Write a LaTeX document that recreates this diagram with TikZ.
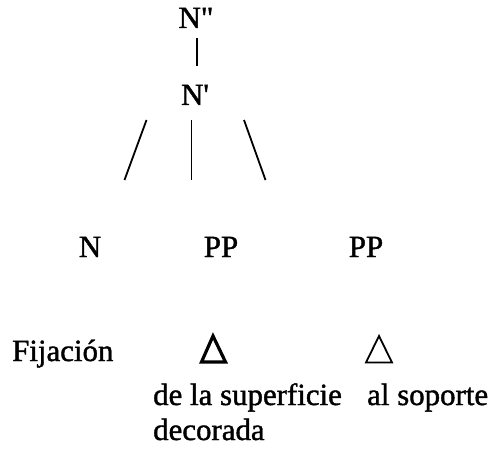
\documentclass[tikz,border=0pt]{standalone}
\usepackage{fontspec}
\setmainfont{Liberation Serif}[Ligatures=TeXOff, FakeBold=1.3]
\begin{document}
\begin{tikzpicture}[x=1bp,y=-1bp,
  lbl/.style={font=\fontsize{31}{36}\selectfont, inner sep=0pt, anchor=base},
  lblw/.style={lbl, anchor=base west},
  edge/.style={line width=1.8bp, line cap=butt}]
\useasboundingbox (0,0) rectangle (501,454);
% top
\node[lbl] (npp) at (196,28) {N\symbol{"22}};
\node[lbl] (np) at (195,105) {N\symbol{"27}};
\coordinate (a1) at (197,38);
\coordinate (a2) at (197,66);
\draw[edge] (a1) -- (a2);
% branches
\coordinate (l1) at (146.5,120);
\coordinate (l2) at (124.5,180);
\coordinate (m1) at (191.5,120);
\coordinate (m2) at (191.5,180);
\coordinate (r1) at (244,120);
\coordinate (r2) at (265.5,180);
\draw[edge] (l1) -- (l2);
\draw[edge] (m1) -- (m2);
\draw[edge] (r1) -- (r2);
% categories
\node[lbl] (n) at (90,257) {N};
\node[lbl] (pp1) at (221,257) {PP};
\node[lbl] (pp2) at (366,257) {PP};
% words
\node[lblw] (fij) at (12,361) {Fijación};
\draw[line width=3.2bp, line join=miter] (213,336) -- (201.5,362) -- (225.5,362) -- cycle;
\draw[line width=1.8bp, line join=miter] (379,336) -- (366,362.5) -- (392,362.5) -- cycle;
\node[lblw] (sup) at (153,405) {de la superficie};
\node[lblw] (sop) at (367,405) {al soporte};
\node[lblw] (dec) at (153,440) {decorada};
\end{tikzpicture}
\end{document}
